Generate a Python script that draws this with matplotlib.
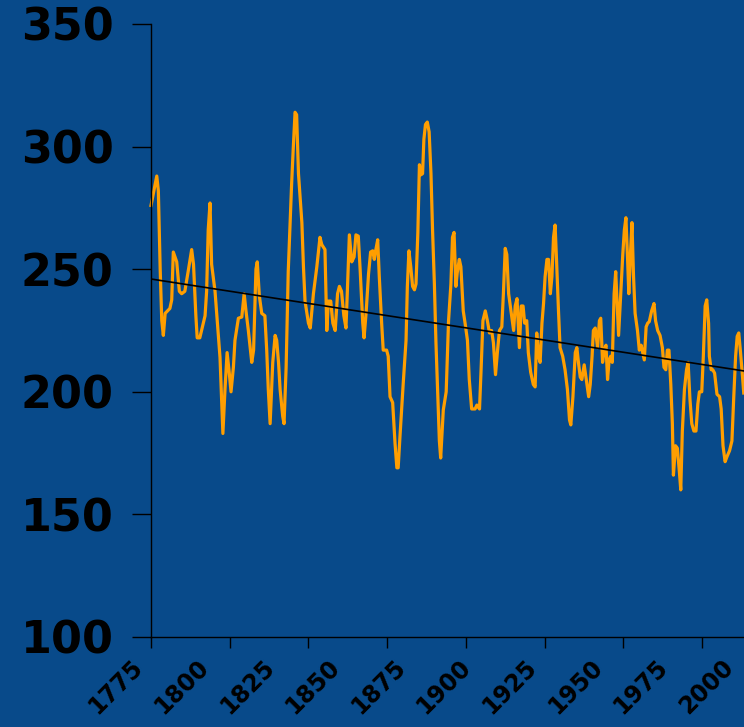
import matplotlib
matplotlib.use("Agg")
import matplotlib.pyplot as plt
from matplotlib.ticker import FixedLocator, NullFormatter
from matplotlib.transforms import ScaledTranslation

# values
years = [1775.0, 1777.2, 1777.8, 1778.5, 1779.1, 1779.7, 1780.4, 1782.2, 1782.9, 1783.5,
         1784.8, 1785.8, 1786.7, 1787.9, 1789.3, 1790.5, 1791.2, 1792.1, 1792.6, 1793.6,
         1795.6, 1796.2, 1796.8, 1797.5, 1798.1, 1799.4, 1800.3, 1801.3, 1802.0, 1802.4,
         1803.2, 1804.0, 1804.8, 1805.5, 1806.4, 1807.0, 1808.3, 1809.6, 1810.5, 1811.2,
         1812.1, 1813.4, 1814.1, 1815.0, 1815.5, 1816.3, 1817.2, 1818.4, 1819.1, 1819.7,
         1820.4, 1821.4, 1822.3, 1822.9, 1823.6, 1824.2, 1825.2, 1825.7, 1826.5, 1827.3,
         1828.0, 1828.6, 1829.2, 1829.9, 1830.5, 1831.2, 1832.5, 1833.1, 1833.7, 1835.0,
         1835.7, 1836.9, 1838.2, 1839.4, 1840.1, 1841.3, 1842.0, 1842.6, 1843.5, 1844.3,
         1845.2, 1846.1, 1846.8, 1847.6, 1848.5, 1849.3, 1849.8, 1850.6, 1851.5, 1852.4,
         1853.1, 1854.0, 1854.7, 1855.7, 1856.2, 1857.0, 1857.9, 1858.7, 1859.5, 1860.1,
         1860.7, 1861.4, 1862.0, 1862.9, 1863.5, 1864.8, 1865.4, 1866.1, 1867.1, 1868.0,
         1868.7, 1869.2, 1869.9, 1871.1, 1872.2, 1872.7, 1873.3, 1874.0, 1874.7, 1875.4,
         1876.0, 1876.7, 1877.3, 1877.9, 1878.5, 1879.0, 1879.6, 1880.3, 1881.0, 1881.7,
         1882.3, 1883.0, 1883.6, 1884.3, 1884.9, 1885.4, 1886.4, 1887.5, 1888.4, 1889.3,
         1889.9, 1890.5, 1891.2, 1891.7, 1892.5, 1893.1, 1894.0, 1894.7, 1895.6, 1896.3,
         1897.2, 1898.5, 1899.2, 1900.2, 1900.8, 1901.5, 1902.4, 1903.2, 1904.0, 1904.8,
         1905.5, 1906.3, 1907.0, 1907.8, 1908.7, 1909.3, 1910.0, 1910.6, 1911.3, 1912.2,
         1913.2, 1913.8, 1914.5, 1915.4, 1916.1, 1916.8, 1917.4, 1918.2, 1918.8, 1919.7,
         1920.7, 1921.4, 1922.0, 1922.7, 1923.3, 1924.0, 1924.6, 1925.2, 1925.9, 1926.5,
         1927.2, 1927.8, 1928.4, 1929.0, 1929.6, 1930.3, 1930.9, 1931.9, 1932.8, 1933.7,
         1934.5, 1935.0, 1935.8, 1936.7, 1937.3, 1937.9, 1938.6, 1939.2, 1940.1, 1940.9,
         1941.8, 1942.4, 1943.1, 1943.6, 1944.3, 1945.2, 1945.9, 1946.4, 1947.1, 1947.7,
         1948.4, 1949.0, 1949.6, 1950.2, 1950.8, 1951.5, 1952.1, 1952.8, 1953.2, 1954.1,
         1954.8, 1955.4, 1956.0, 1956.6, 1957.1, 1957.8, 1958.3, 1958.9, 1959.5, 1960.4,
         1961.1, 1961.8, 1962.4, 1963.0, 1963.7, 1964.3, 1964.9, 1965.8, 1966.7, 1967.3,
         1968.1, 1969.0, 1969.9, 1970.5, 1971.2, 1971.8, 1972.4, 1973.1, 1973.7, 1974.1,
         1974.9, 1975.6, 1976.4, 1976.9, 1977.5, 1978.3, 1979.1, 1979.7, 1980.4, 1981.1,
         1981.9, 1982.7, 1983.4, 1984.0, 1984.9, 1985.5, 1986.2, 1986.8, 1987.5, 1987.8,
         1988.5, 1989.1, 1989.8, 1990.7, 1991.7, 1992.3, 1993.0, 1993.8, 1994.5, 1995.5,
         1996.4, 1997.1, 1997.8, 1998.4, 1999.0, 1999.6, 2000.3, 2000.9]
values = [276, 288, 282, 250, 229, 223, 232, 234, 237.5, 257,
          253, 241, 240, 241, 250, 258, 252, 231, 222, 222,
          231, 241, 266, 277, 252, 241, 228, 214, 194, 183,
          201, 216, 208, 200, 210, 221, 230, 230.5, 240, 233,
          225, 212, 217, 250, 253, 239, 232, 231, 217, 201,
          187, 212, 223, 221, 212, 201, 190, 187, 210, 249,
          269, 285, 299, 314, 313, 289, 269, 251, 237, 228,
          226, 240, 251, 263, 260, 258, 225, 237, 237, 228,
          225, 240, 243, 241, 231, 226, 240, 264, 253, 255,
          264, 263.5, 250, 228, 222, 232.5, 248, 257, 257.5, 254,
          258, 262, 247, 228, 217, 217, 214.5, 198, 195.6, 179,
          169, 169, 182, 203, 221, 243, 257.5, 251, 243, 241.6,
          244, 265, 292.6, 288.5, 289, 303, 309, 310, 306, 289,
          266, 244, 220, 198, 180, 173, 192.6, 200, 229, 244,
          263, 265, 243, 248.5, 254, 251, 233, 228, 221, 205,
          193, 193, 194.6, 193, 209, 229, 233, 229, 224, 225,
          220, 207, 216, 225, 226.5, 240, 258.5, 256, 240, 233,
          225, 235, 238, 218, 235, 235, 228, 229, 216, 208,
          203, 202, 224, 214.5, 212, 228, 236, 247, 254, 254,
          240, 247, 263, 268, 252.5, 233, 218, 214.5, 209, 201,
          188.5, 186.5, 198, 216, 218, 212, 206, 205, 211, 205,
          198, 203, 214.5, 225, 226, 218, 229, 230, 212, 217,
          219, 205, 213, 214.5, 212, 240, 249, 233, 223, 242,
          256, 266, 271, 255, 240, 258, 269, 247, 232, 225,
          217, 219, 216, 213, 226.5, 228, 228.6, 233, 236, 229,
          225, 223, 218, 210, 209, 217, 217, 203, 187, 166,
          178, 177, 167, 160, 184, 201, 209, 212, 197, 187,
          184, 184, 195, 200, 200, 214.5, 235, 237.5, 228, 214.5,
          209, 209, 207.6, 199, 198, 193, 178, 171.5, 173.5, 176,
          180, 198, 214.5, 222.6, 224, 217, 208, 199.5]

trend_years = [1775, 2001]
trend_values = [246, 208.5]

label_years = [1775, 1800, 1825, 1850, 1875, 1900, 1925, 1950, 1975, 2000]
tick_years = [1775, 1805, 1835, 1865, 1895, 1925, 1955, 1985]
y_ticks = [100, 150, 200, 250, 300, 350]

bg = "#084a8a"

fig = plt.figure(figsize=(7.44, 7.27), dpi=100, facecolor=bg)
ax = fig.add_axes([151 / 744, 90 / 727, 593 / 744, 613 / 727], facecolor=bg)

ax.plot(years, values, color="#ff9e00", lw=2.3, solid_joinstyle="round", clip_on=False)
ax.plot(trend_years, trend_values, color="black", lw=1.2)

ax.set_xlim(1775, 2001)
ax.set_ylim(100, 350)

# tick marks every 30 years, labels every 25 years (drawn as text, nudged left)
ax.xaxis.set_major_locator(FixedLocator(tick_years))
ax.xaxis.set_major_formatter(NullFormatter())
ax.tick_params(axis="x", length=8, width=1, color="black")
shift = ScaledTranslation(-20 / 100, -18 / 100, fig.dpi_scale_trans)
for yr in label_years:
    ax.text(yr, 0, str(yr), transform=ax.get_xaxis_transform() + shift,
            rotation=45, ha="right", va="top", rotation_mode="anchor",
            fontsize=17, fontweight="bold", color="black")

ax.set_yticks(y_ticks)
ax.set_yticklabels([str(v) for v in y_ticks], fontsize=32, fontweight="bold")
ax.tick_params(axis="y", length=14, width=1, color="black", pad=13)

for s in ["top", "right"]:
    ax.spines[s].set_visible(False)
for s in ["left", "bottom"]:
    ax.spines[s].set_color("black")
    ax.spines[s].set_linewidth(1)

fig.savefig("out.png", dpi=100, facecolor=bg)
